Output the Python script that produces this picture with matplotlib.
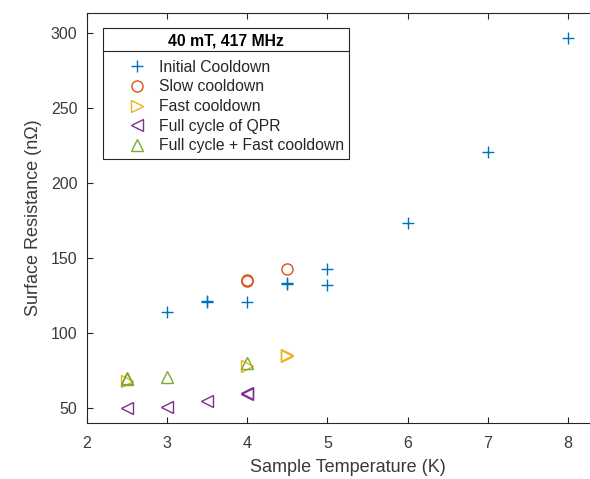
import matplotlib
matplotlib.use("Agg")
import matplotlib.pyplot as plt
from matplotlib.lines import Line2D

plt.rcParams['font.family'] = ['Liberation Sans', 'DejaVu Sans']

# Data
initial_T = [3, 3.5, 3.5, 4, 4.5, 4.5, 5, 5, 6, 7, 8]
initial_R = [114, 121.5, 121, 121, 133.5, 133, 142.5, 132, 173.5, 221, 296.5]

slow_T = [4, 4, 4.5]
slow_R = [135.5, 134.5, 142.5]

fast_T = [2.5, 4, 4.5, 4.5]
fast_R = [68, 78, 85.5, 85]

qpr_T = [2.5, 3, 3.5, 4, 4]
qpr_R = [50, 50.5, 54.5, 60, 59.5]

fullfast_T = [2.5, 2.5, 3, 4]
fullfast_R = [70, 69.5, 70.5, 80]

labels = ['Initial Cooldown', 'Slow cooldown', 'Fast cooldown',
          'Full cycle of QPR', 'Full cycle + Fast cooldown']
colors = ['#0072BD', '#D95319', '#EDB120', '#7E2F8E', '#77AC30']
markers = ['+', 'o', '>', '<', '^']

fig = plt.figure(figsize=(5.9, 4.79), dpi=100)
ax = fig.add_axes([87 / 590, 56 / 479, 521 / 590, 410 / 479])

series = [(initial_T, initial_R), (slow_T, slow_R), (fast_T, fast_R),
          (qpr_T, qpr_R), (fullfast_T, fullfast_R)]
for (t, r), lab, c, m in zip(series, labels, colors, markers):
    if m == '+':
        ax.plot(t, r, linestyle='none', marker=m, color=c, markersize=9,
                markeredgewidth=1.0, label=lab)
    else:
        ax.plot(t, r, linestyle='none', marker=m, markerfacecolor='none',
                markeredgecolor=c, markersize=8, markeredgewidth=1.0, label=lab)

ax.set_xlim(2, 8.5)
ax.set_ylim(40, 313.5)
ax.set_xticks(range(2, 9))
ax.set_yticks(range(50, 301, 50))
ax.tick_params(direction='in', length=4, width=0.8, top=True, right=True,
               labelsize=11.5, colors='#262626', labelcolor='#3a3a3a')
ax.tick_params(axis='y', pad=7)
ax.tick_params(axis='x', pad=9)
for s in ax.spines.values():
    s.set_color('#262626')
    s.set_linewidth(0.8)

ax.set_xlabel('Sample Temperature (K)', fontsize=13, color='#3a3a3a', labelpad=6)
ax.set_ylabel('Surface Resistance (n\u03a9)', fontsize=13, color='#3a3a3a', labelpad=6)

leg = ax.legend(loc='upper left', bbox_to_anchor=(16 / 521, 1 - 15 / 410),
                title='40 mT, 417 MHz', fontsize=11.3, frameon=True,
                fancybox=False, edgecolor='#262626', framealpha=1,
                borderpad=0.35, labelspacing=0.3, handletextpad=-0.4,
                handlelength=3.6, borderaxespad=0)
leg.get_title().set_fontweight('bold')
leg.get_title().set_fontsize(11.3)
leg.get_frame().set_linewidth(0.8)
leg._legend_box.sep = 8
for t in leg.get_texts():
    t.set_color('#262626')

# separator line below legend title
fig.canvas.draw()
r = fig.canvas.get_renderer()
fb = leg.get_frame().get_window_extent(r)
tb = leg.get_title().get_window_extent(r)
ysep = tb.y0 - 3
inv = fig.transFigure.inverted()
(x0, y0), (x1, _) = inv.transform([(fb.x0, ysep), (fb.x1, ysep)])
fig.add_artist(Line2D([x0, x1], [y0, y0], color='#262626', linewidth=0.8))

fig.savefig('out.png', dpi=100)
